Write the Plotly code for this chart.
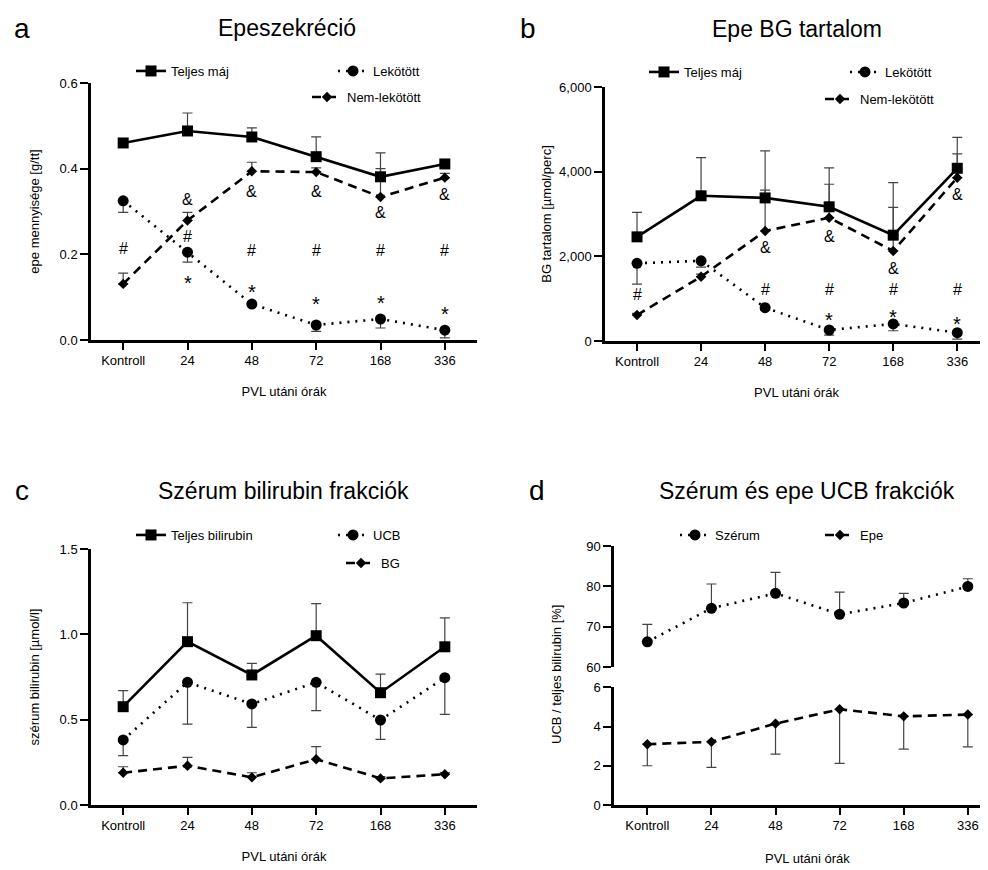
import plotly.graph_objects as go

# ---------------- data ----------------
categories = ["Kontroll", "24", "48", "72", "168", "336"]

# a) Epeszekréció
a_teljes = [0.460, 0.488, 0.474, 0.428, 0.381, 0.411]
a_teljes_err = [0.010, 0.042, 0.021, 0.046, 0.056, 0.005]
a_lekotott = [0.325, 0.205, 0.084, 0.035, 0.049, 0.023]
a_lekotott_err = [0.027, 0.023, 0.005, 0.015, 0.021, 0.018]
a_nem = [0.131, 0.279, 0.394, 0.392, 0.334, 0.379]
a_nem_err = [0.025, 0.019, 0.021, 0.010, 0.066, 0.010]
a_amp = [("24", 0.329), ("48", 0.346), ("72", 0.346), ("168", 0.297), ("336", 0.339)]
a_hash = [("Kontroll", 0.213), ("24", 0.241), ("48", 0.208), ("72", 0.208), ("168", 0.208), ("336", 0.208)]
a_star = [("24", 0.145), ("48", 0.124), ("72", 0.096), ("168", 0.098), ("336", 0.072)]

# b) Epe BG tartalom
b_teljes = [2460, 3430, 3380, 3170, 2500, 4080]
b_teljes_err = [580, 900, 1110, 920, 1240, 730]
b_lekotott = [1835, 1895, 787, 260, 402, 196]
b_lekotott_err = [490, 150, 60, 120, 160, 150]
b_nem = [614, 1519, 2599, 2913, 2126, 3858]
b_nem_err = [40, 60, 967, 790, 1030, 560]
b_amp = [("48", 2197), ("72", 2457), ("168", 1701), ("336", 3449)]
b_hash = [("Kontroll", 1087), ("48", 1205), ("72", 1205), ("168", 1205), ("336", 1205)]
b_star = [("72", 614), ("168", 692), ("336", 520)]

# c) Szérum bilirubin frakciók
c_teljes = [0.576, 0.957, 0.762, 0.992, 0.658, 0.927]
c_teljes_err = [0.094, 0.228, 0.068, 0.188, 0.109, 0.170]
c_ucb = [0.381, 0.719, 0.592, 0.719, 0.498, 0.746]
c_ucb_err = [0.092, 0.245, 0.137, 0.166, 0.113, 0.215]
c_bg = [0.189, 0.230, 0.162, 0.268, 0.156, 0.180]
c_bg_err = [0.035, 0.049, 0.027, 0.074, 0.010, 0.010]

# d) Szérum és epe UCB frakciók
d_szerum = [66.3, 74.6, 78.3, 73.1, 75.9, 80.0]
d_szerum_err = [4.3, 6.0, 5.2, 5.5, 2.4, 1.9]
d_epe = [3.10, 3.22, 4.15, 4.88, 4.52, 4.61]
d_epe_err = [1.10, 1.30, 1.56, 2.76, 1.67, 1.65]

# ---------------- helpers ----------------
OFF = 8                      # page body margin
W, H = 988 - OFF, 870 - OFF  # figure size so it fills the visible window
FONT = "Arial, Liberation Sans, Helvetica, sans-serif"


def px(x):
    return (x - OFF) / W


def py(y):
    return 1 - (y - OFF) / H


DOT = "2px,6px"
DASH = "9px,6px"
ERRC = "#444444"


def series(name, x, y, err, up, style, symbol, size, xa, ya, legend):
    zeros = [0] * len(err)
    return go.Scatter(
        x=x, y=y, name=name, mode="lines+markers",
        xaxis=xa, yaxis=ya, legend=legend, showlegend=True,
        cliponaxis=False,
        line=dict(color="black", width=2.6, dash=style),
        marker=dict(symbol=symbol, size=size, color="black"),
        error_y=dict(type="data", symmetric=False,
                     array=err if up else zeros,
                     arrayminus=zeros if up else err,
                     color=ERRC, thickness=1.2, width=5),
    )


fig = go.Figure()

# panel a
fig.add_trace(series("Nem-lekötött", categories, a_nem, a_nem_err, True, DASH, "diamond", 8, "x", "y", "legend3"))
fig.add_trace(series("Lekötött", categories, a_lekotott, a_lekotott_err, False, DOT, "circle", 11, "x", "y", "legend2"))
fig.add_trace(series("Teljes máj", categories, a_teljes, a_teljes_err, True, "solid", "square", 11, "x", "y", "legend"))
# panel b
fig.add_trace(series("Nem-lekötött", categories, b_nem, b_nem_err, True, DASH, "diamond", 8, "x2", "y2", "legend6"))
fig.add_trace(series("Lekötött", categories, b_lekotott, b_lekotott_err, False, DOT, "circle", 11, "x2", "y2", "legend5"))
fig.add_trace(series("Teljes máj", categories, b_teljes, b_teljes_err, True, "solid", "square", 11, "x2", "y2", "legend4"))
# panel c
fig.add_trace(series("BG", categories, c_bg, c_bg_err, True, DASH, "diamond", 8, "x3", "y3", "legend9"))
fig.add_trace(series("UCB", categories, c_ucb, c_ucb_err, False, DOT, "circle", 11, "x3", "y3", "legend8"))
fig.add_trace(series("Teljes bilirubin", categories, c_teljes, c_teljes_err, True, "solid", "square", 11, "x3", "y3", "legend7"))
# panel d
fig.add_trace(series("Szérum", categories, d_szerum, d_szerum_err, True, DOT, "circle", 11, "x4", "y4", "legend10"))
fig.add_trace(series("Epe", categories, d_epe, d_epe_err, False, DASH, "diamond", 8, "x4", "y5", "legend11"))

axis_common = dict(showline=True, linecolor="black", linewidth=2.5,
                   ticks="outside", tickcolor="black", tickwidth=2,
                   showgrid=False, zeroline=False, automargin=False,
                   tickfont=dict(family=FONT, size=13, color="black"))
title_font = dict(family=FONT, size=13, color="black")


def xaxis(domain, anchor, rng, title=None):
    d = dict(axis_common, type="category", domain=[px(domain[0]), px(domain[1])],
             anchor=anchor, range=rng, ticklen=7,
             categoryorder="array", categoryarray=categories)
    if title:
        d["title"] = dict(text=title, font=title_font, standoff=20)
    return d


def yaxis(domain, anchor, rng, tickvals, fmt, title=None, standoff=12):
    d = dict(axis_common, domain=[py(domain[0]), py(domain[1])], anchor=anchor,
             range=rng, tickmode="array", tickvals=tickvals, tickformat=fmt,
             ticklen=8)
    if title:
        d["title"] = dict(text=title, font=title_font, standoff=standoff)
    return d


layout = dict(
    width=W, height=H, margin=dict(l=0, r=0, t=0, b=0, autoexpand=False),
    paper_bgcolor="white", plot_bgcolor="white",
    font=dict(family=FONT, color="black"),
    xaxis=xaxis((91, 477), "y", [-0.5, 5.5], "PVL utáni órák"),
    yaxis=yaxis((340, 83), "x", [0, 0.6], [0, 0.2, 0.4, 0.6], ".1f", "epe mennyisége [g/tt]", 18),
    xaxis2=xaxis((605, 988), "y2", [-0.5, 5.48], "PVL utáni órák"),
    yaxis2=yaxis((341, 87), "x2", [0, 6000], [0, 2000, 4000, 6000], ",", "BG tartalom [µmol/perc]", 5),
    xaxis3=xaxis((91, 477), "y3", [-0.5, 5.5], "PVL utáni órák"),
    yaxis3=yaxis((805, 549), "x3", [0, 1.5], [0, 0.5, 1.0, 1.5], ".1f", "szérum bilirubin [µmol/l]", 18),
    xaxis4=xaxis((614, 988), "y5", [-0.52, 5.315]),
    yaxis4=yaxis((667.3, 546), "x4", [60, 90], [60, 70, 80, 90], "d"),
    yaxis5=yaxis((805, 687.3), "x4", [0, 6], [0, 2, 4, 6], "d"),
)

# legends: (name, text-start x px, center y px)
legend_pos = {
    "legend": (173, 71), "legend2": (375, 71), "legend3": (349, 97),
    "legend4": (686, 72), "legend5": (887, 72), "legend6": (862, 99),
    "legend7": (173, 535), "legend8": (375, 535), "legend9": (383, 563),
    "legend10": (717, 535), "legend11": (862, 535),
}
for key, (tx, ty) in legend_pos.items():
    layout[key] = dict(x=px(tx - 42), y=py(ty), xanchor="left", yanchor="middle",
                       bgcolor="rgba(0,0,0,0)", borderwidth=0,
                       font=dict(family=FONT, size=13, color="black"),
                       itemwidth=30)

fig.update_layout(**layout)

annotations = []
# titles & panel letters
for text, x, y in [("Epeszekréció", 287, 28), ("Epe BG tartalom", 797, 29),
                   ("Szérum bilirubin frakciók", 283, 491), ("Szérum és epe UCB frakciók", 807, 491)]:
    annotations.append(dict(text=text, x=px(x), y=py(y), xref="paper", yref="paper",
                            showarrow=False, xanchor="center", yanchor="middle",
                            font=dict(family=FONT, size=23, color="black")))
for text, x, y in [("a", 22, 28), ("b", 528, 28), ("c", 22, 490), ("d", 537, 490)]:
    annotations.append(dict(text=text, x=px(x), y=py(y), xref="paper", yref="paper",
                            showarrow=False, xanchor="center", yanchor="middle",
                            font=dict(family=FONT, size=28, color="black")))
# panel d axis titles
annotations.append(dict(text="UCB / teljes bilirubin [%]", x=px(556), y=py(675), xref="paper", yref="paper",
                        showarrow=False, textangle=-90, xanchor="center", yanchor="middle",
                        font=title_font))
annotations.append(dict(text="PVL utáni órák", x=px(807), y=py(858), xref="paper", yref="paper",
                        showarrow=False, xanchor="center", yanchor="middle", font=title_font))


def sig(marks, symbol, xa, ya, size=16, shift=0):
    for cat, yv in marks:
        annotations.append(dict(text=symbol, x=categories.index(cat), y=yv, xref=xa, yref=ya,
                                showarrow=False, xanchor="center", yanchor="middle", yshift=shift,
                                font=dict(family=FONT, size=size, color="black")))


sig(a_amp, "&", "x", "y")
sig(a_hash, "#", "x", "y")
sig(a_star, "*", "x", "y", 20, -5)
sig(b_amp, "&", "x2", "y2")
sig(b_hash, "#", "x2", "y2")
sig(b_star, "*", "x2", "y2", 20, -5)

fig.update_layout(annotations=annotations)

fig.write_html("out.html")
